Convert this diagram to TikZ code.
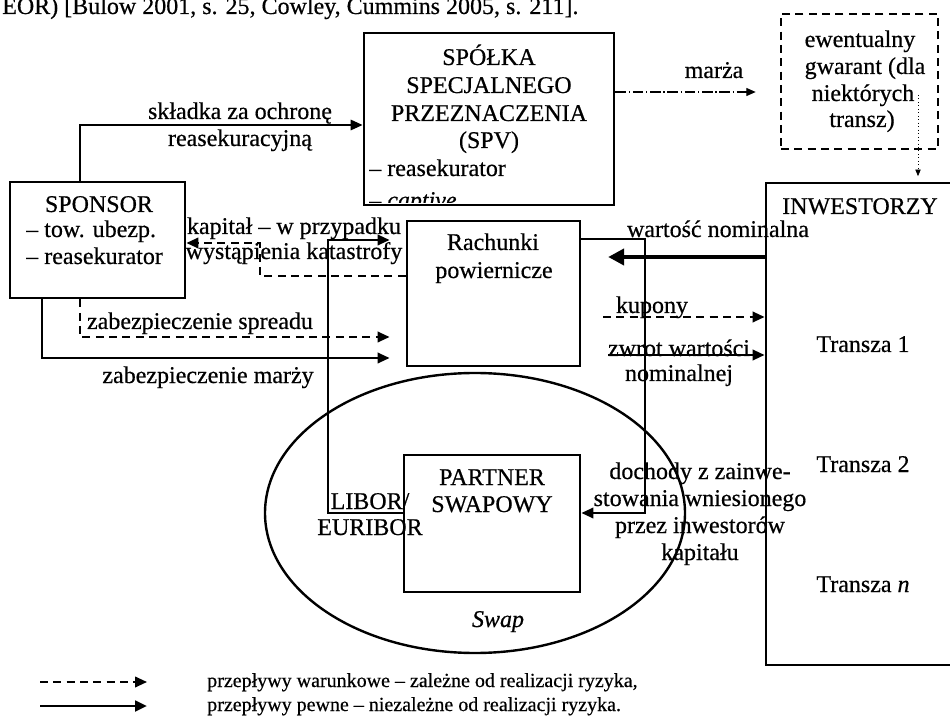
\documentclass[tikz,border=0pt]{standalone}
\usepackage{fontspec}
\setmainfont{Liberation Serif}[FakeBold=0.5]
\usetikzlibrary{arrows.meta,fit,shapes.geometric}
\begin{document}
\begin{tikzpicture}[x=0.75pt,y=-0.75pt,
  every node/.style={font=\fontsize{18}{21}\selectfont, inner sep=0pt},
  lbl/.style={anchor=base},
  lblw/.style={anchor=base west},
  legtxt/.style={anchor=base west, font=\fontsize{15}{18}\selectfont},
  box/.style={draw, line width=2.2pt, inner sep=0pt},
  dbox/.style={draw, line width=2pt, dash pattern=on 6pt off 4pt, inner sep=0pt},
  flow/.style={line width=1.4pt, -{Triangle[length=9pt,width=8pt]}},
  cflow/.style={flow, dash pattern=on 6pt off 4pt},
  thick flow/.style={line width=3.6pt, -{Triangle[length=12pt,width=12pt]}},
]
\clip (0,0) rectangle (950,720);
\fill[white] (0,0) rectangle (950,720);

% source line (cut at top)
\node[lblw] (src) at (2,14) {EOR) [Bulow 2001, s. 25, Cowley, Cummins 2005, s. 211].};

% boxes
\node[box, fit={(364,33) (614,205)}] (spv) {};
\node[dbox, fit={(781,14) (938,149)}] (gwar) {};
\node[box, fit={(10,182) (185,298)}] (sponsor) {};
\node[box, fit={(407,221) (580,366)}] (rach) {};
\node[box, fit={(404,455) (580,592)}] (partner) {};
\node[box, fit={(766,183) (965,665)}] (inv) {};
\node[draw, ellipse, line width=1.8pt, minimum width=315pt, minimum height=210pt] (swapell) at (475,513) {};

% texts in boxes
\node[lbl] (spv1) at (489,65) {SPÓŁKA};
\node[lbl] (spv2) at (489,93) {SPECJALNEGO};
\node[lbl] (spv3) at (489,121) {PRZEZNACZENIA};
\node[lbl] (spv4) at (489,148) {(SPV)};
\node[lblw] (spv5) at (369,176) {– reasekurator};
\begin{scope}
  \clip (364,33) rectangle (614,203);
  \node[lblw] (spv6) at (369,208) {– \textit{captive}};
\end{scope}

\node[lbl] (gw1) at (860,47) {ewentualny};
\node[lbl] (gw2) at (865,74) {gwarant (dla};
\node[lbl] (gw3) at (863,101) {niektórych};
\node[lbl] (gw4) at (862,127) {transz)};

\node[lbl] (sp1) at (99,212) {SPONSOR};
\node[lblw] (sp2) at (26,237) {– tow. ubezp.};
\node[lblw] (sp3) at (26,264) {– reasekurator};

\node[lbl] (ra1) at (493,250) {Rachunki};
\node[lbl] (ra2) at (494,278) {powiernicze};

\node[lbl] (pa1) at (492,485) {PARTNER};
\node[lbl] (pa2) at (492,512) {SWAPOWY};
\node[lbl] (swapT) at (498,627) {\textit{Swap}};

\node[lbl] (in0) at (860,214) {INWESTORZY};
\node[lbl] (in1) at (863,352) {Transza 1};
\node[lbl] (in2) at (863,472) {Transza 2};
\node[lbl] (in3) at (863,592) {Transza \textit{n}};

% connectors
\draw[flow, line width=0.9pt] (sponsor.north -| 80,0) |- (spv.west |- 0,125);
\node[lbl] (sk1) at (240,119) {składka za ochronę};
\node[lbl] (sk2) at (240,146) {reasekuracyjną};

\draw[flow, line width=0.8pt, dash pattern=on 8pt off 2pt on 1pt off 2pt,
      -{Triangle[length=7pt,width=6pt]}, shorten >=18pt] (spv.east |- 0,92) -- (gwar.west |- 0,92);
\node[lbl] (mz) at (714,78) {marża};

\coordinate (gwS) at (918,95);
\draw[line width=0.6pt, dotted, -{Triangle[length=5pt,width=4pt]}, shorten >=4pt] (gwS) -- (inv.north -| gwS);

\draw[cflow] (rach.west |- 0,276) -- (260,276) -- (260,243) -- (sponsor.east |- 0,243);
\node[lbl] (ka1) at (294,234) {kapitał – w przypadku};
\node[lbl] (ka2) at (294,259) {wystąpienia katastrofy};

\draw[flow, shorten >=12pt] (partner.west |- 0,513) -- (328,513) -- (328,240) -- (rach.west |- 0,240);
\node[lbl] (lb1) at (370,509) {LIBOR/};
\node[lbl] (lb2) at (370,535) {EURIBOR};

\draw[flow] (rach.east |- 0,239) -- (645,239) -- (645,513) -- (partner.east |- 0,513);
\node[lbl] (do1) at (700,479) {dochody z zainwe-};
\node[lbl] (do2) at (700,506) {stowania wniesionego};
\node[lbl] (do3) at (700,533) {przez inwestorów};
\node[lbl] (do4) at (700,560) {kapitału};

\draw[thick flow, shorten >=20pt] (inv.west |- 0,257) -- (rach.east |- 0,257);
\node[lbl] (wn) at (718,237) {wartość nominalna};

\coordinate (kuS) at (603,317);
\draw[cflow] (kuS) -- (inv.west |- kuS);
\node[lbl] (ku) at (652,313) {kupony};

\coordinate (zwS) at (608,355);
\draw[flow] (zwS) -- (inv.west |- zwS);
\node[lbl] (zw1) at (679,356) {zwrot wartości};
\node[lbl] (zw2) at (679,381) {nominalnej};

\draw[cflow, shorten >=12pt] (sponsor.south -| 80,0) |- (rach.west |- 0,337);
\node[lbl] (zs) at (200,329) {zabezpieczenie spreadu};
\draw[flow, shorten >=12pt] (sponsor.south -| 42,0) |- (rach.west |- 0,358);
\node[lbl] (zm) at (208,383) {zabezpieczenie marży};

% legend
\coordinate (l1a) at (40,682); \coordinate (l1b) at (147,682);
\coordinate (l2a) at (40,706); \coordinate (l2b) at (147,706);
\draw[cflow] (l1a) -- (l1b);
\draw[flow, line width=2pt] (l2a) -- (l2b);
\node[legtxt] (lg1) at (207,687) {przepływy warunkowe – zależne od realizacji ryzyka,};
\node[legtxt] (lg2) at (207,711) {przepływy pewne – niezależne od realizacji ryzyka.};
\end{tikzpicture}
\end{document}
